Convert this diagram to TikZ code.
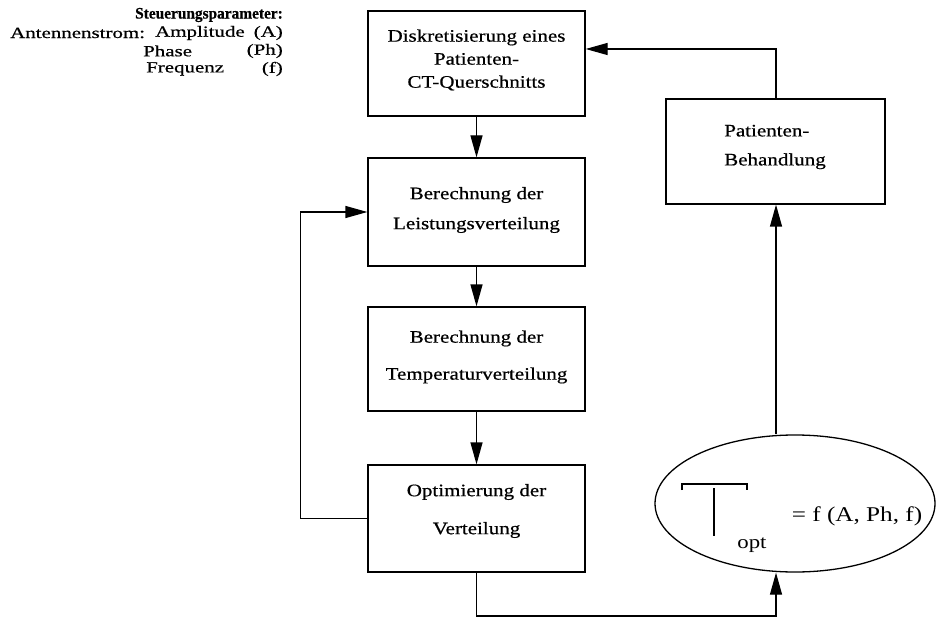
\documentclass[tikz,border=0pt]{standalone}
\usepackage{graphicx}
\usepackage{fontspec}
\setmainfont{Liberation Serif}[FakeStretch=1.2]
\newfontfamily\boxfont{Liberation Serif}[FakeStretch=1.2,FakeBold=0.6]
\newfontfamily\leftfont{Liberation Serif}[FakeStretch=1.35,FakeBold=0.6]
\usetikzlibrary{arrows.meta,shapes.geometric}
\newcommand{\lsize}{\fontsize{15.5}{17}\selectfont\leftfont}
\newcommand{\bsize}{\fontsize{17.5}{21}\selectfont\boxfont}
\begin{document}
\begin{tikzpicture}[x=1pt,y=-1pt,
  box/.style={draw,line width=1.3pt,minimum width=217pt,inner sep=0pt},
  txt/.style={align=center,inner sep=0pt,font=\bsize},
  ltxt/.style={inner sep=0pt,font=\lsize},
  conn/.style={line width=1.3pt},
  arr/.style={conn,-{Triangle[length=22pt,width=12pt]}}]
\useasboundingbox (0,0) rectangle (936,620);
% left parameter text
\node[ltxt,anchor=east] (hd) at (283,15) {\scalebox{0.8}[1]{\fontsize{16}{17}\selectfont\boxfont\bfseries Steuerungsparameter:}};
\node[ltxt,anchor=west] (ant) at (10,33) {Antennenstrom:};
\node[ltxt,anchor=west] (amp) at (155,33) {Amplitude};
\node[ltxt,anchor=east] (pa) at (283,33) {(A)};
\node[ltxt,anchor=west] (ph) at (143,51) {Phase};
\node[ltxt,anchor=east] (pph) at (283,51) {(Ph)};
\node[ltxt,anchor=west] (fr) at (146,69) {Frequenz};
\node[ltxt,anchor=east] (pf) at (283,69) {(f)};
% boxes
\node[box,minimum height=105pt] (b1) at (476.5,63.5) {};
\node[txt] (t1) at (476.5,60) {Diskretisierung eines\\[2pt]Patienten-\\[2pt]CT-Querschnitts};
\node[box,minimum height=108pt] (b2) at (476.5,212) {};
\node[txt] (t2) at (476.5,210) {Berechnung der\\[9pt]Leistungsverteilung};
\node[box,minimum height=104pt] (b3) at (476.5,359) {};
\node[txt] (t3) at (476.5,357) {Berechnung der\\[16pt]Temperaturverteilung};
\node[box,minimum height=107pt] (b4) at (476.5,518.5) {};
\node[txt] (t4) at (476.5,511) {Optimierung der\\[17pt]Verteilung};
\node[box,minimum width=219pt,minimum height=105pt] (rb) at (775.5,151.5) {};
\node[txt,align=left] (trb) at (775,147) {Patienten-\\[8pt]Behandlung};
% ellipse
\node[draw,ellipse,line width=1.3pt,minimum width=280pt,minimum height=137pt,inner sep=0pt] (ell) at (795,503.5) {};
\draw[line width=1.2pt] (682,490) -- (682,484) -- (747,484) -- (747,490);
\draw[line width=1.2pt] (714,488) -- (714,536);
\node[inner sep=0pt,font=\fontsize{19}{22}\selectfont] (opt) at (752,545) {opt};
\node[inner sep=0pt,font=\fontsize{21}{24}\selectfont] (fn) at (857,516) {= f (A, Ph, f)};
% connectors
\draw[arr] (b1.south) -- (b2.north);
\draw[arr] (b2.south) -- (b3.north);
\draw[arr] (b3.south) -- (b4.north);
\draw[arr] (b4.west) -- ++(-67,0) |- (b2.west);
\coordinate (bl) at (776,616);
\draw[arr] (b4.south) |- (bl) -- (ell.south -| bl);
\draw[arr] (ell.north -| bl) -- (bl |- rb.south);
\coordinate (tc) at (776,49);
\draw[arr] (bl |- rb.north) -- (tc) -- (tc -| b1.east);
\end{tikzpicture}
\end{document}
